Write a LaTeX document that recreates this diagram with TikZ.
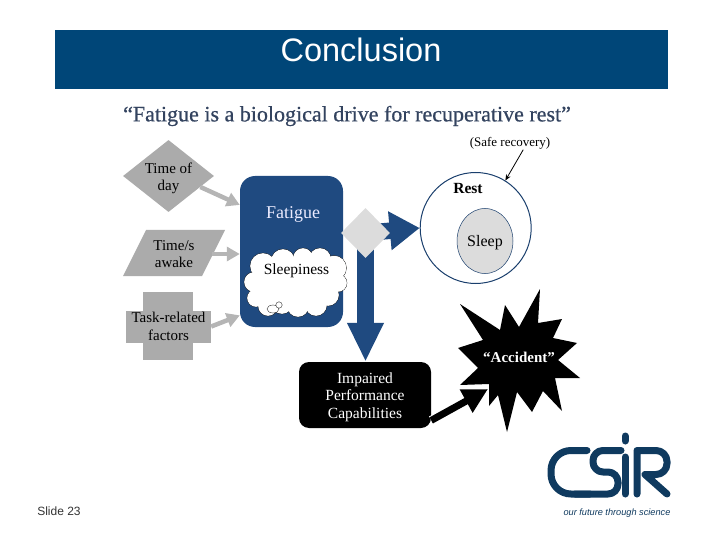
\documentclass[tikz,border=0pt]{standalone}
\usepackage{fontspec}
\setmainfont{Liberation Serif}
\newfontfamily\arialf{Liberation Sans}
\newfontfamily\quotef[FakeBold=0.6]{Liberation Serif}
\usetikzlibrary{arrows.meta,shapes.geometric,backgrounds}
\definecolor{hdr}{HTML}{004678}
\definecolor{fatblue}{HTML}{1F4A80}
\definecolor{quotec}{HTML}{33435F}
\definecolor{greyshape}{HTML}{ABABAB}
\definecolor{greyarrow}{HTML}{B5B5B5}
\definecolor{lightg}{HTML}{DCDCDC}
\definecolor{logoc}{HTML}{0F3A5F}
\newcommand{\fsz}[1]{\fontsize{#1}{17.5}\selectfont}
\tikzset{
  x=1pt,y=-1pt,
  lbl/.style={inner sep=0pt,align=center,text=black},
  gshape/.style={fill=greyshape,draw=none},
  garrow/.style={draw=greyarrow,line width=4.5pt,-{Triangle[length=13pt,width=14pt]}},
  barrow/.style={draw=fatblue,line width=16.5pt,-{Triangle[length=30pt,width=37pt]}},
  barrowdown/.style={draw=fatblue,line width=16.5pt,-{Triangle[length=39pt,width=34pt]}},
  logostroke/.style={draw=logoc,line width=7pt,line cap=round,line join=round},
  puff/.style={draw=black,line width=0.35pt,fill=white},
}
\begin{document}
\begin{tikzpicture}
\useasboundingbox (0,0) rectangle (720,540);
% header
\node[fill=hdr,minimum width=613pt,minimum height=59pt,inner sep=0pt] (header) at (361.5,59.5) {};
\node[text=white,inner sep=0pt] (title) at (361,50) {\arialf\fsz{32.5}Conclusion};
\node[text=quotec,inner sep=0pt] (quote) at (347,116) {\quotef\fsz{22}“Fatigue is a biological drive for recuperative rest”};
\node[inner sep=0pt,text=black!80] (slide) at (59,511) {\arialf\fsz{12}Slide 23};
% left inputs
\node[diamond,aspect=1.26,gshape,inner sep=0pt,minimum width=91pt,minimum height=72pt] (tod) at (168.5,176) {};
\node[lbl,font=\fsz{15}] (todlabel) at (168.5,178.5) {Time of\\day};
\fill[greyshape] (146,230) -- (225,230) -- (202,276) -- (123,276) -- cycle;
\node[lbl,minimum width=76pt,minimum height=46pt,font=\fsz{15}] (awake) at (174,254) {Time/s\\awake};
\fill[greyshape] (143,292) rectangle (193,360);
\node[fill=greyshape,lbl,minimum width=85pt,minimum height=32pt,font=\fsz{15}] (task) at (168.5,326.5) {Task-related\\factors};
% fatigue box
\node[fill=fatblue,rounded corners=15pt,minimum width=103pt,minimum height=151pt,inner sep=0pt] (fat) at (291.5,251.5) {};
\node[inner sep=0pt,text=blue!8!white] (fatlabel) at (293,214) {\fsz{18}Fatigue};
% cloud
\foreach \cx/\cy/\r in {254/282/10,256/298/9,268/306/10,263/266/13,283/261/12,303/258/10,320/259/11,334/268/12.5,338/283/9,328/295/11,316/305/11,298/306/11,282/303/11}{
  \filldraw[puff] (\cx,\cy) circle (\r);
}
\foreach \cx/\cy/\r in {254/282/9.6,256/298/8.6,268/306/9.6,263/266/12.6,283/261/11.6,303/258/9.6,320/259/10.6,334/268/12.1,338/283/8.6,328/295/10.6,316/305/10.6,298/306/10.6,282/303/10.6}{
  \fill[white] (\cx,\cy) circle (\r);
}
\fill[white] (268,258) rectangle (331,300);
\fill[white] (258,270) rectangle (320,305);
\draw[black,line width=0.3pt,fill=white] (273,309) ellipse (6 and 4);
\draw[black,line width=0.3pt,fill=white] (279,305) circle (3.2);
\node[lbl] (sleepiness) at (296.5,271) {\fsz{15.5}Sleepiness};
% gate
\node[diamond,fill=lightg,draw=none,inner sep=0pt,minimum width=49pt,minimum height=50pt] (gate) at (365.5,233) {};
% rest
\node[circle,draw=fatblue!85!black,line width=1pt,fill=white,minimum size=111pt,inner sep=0pt] (rest) at (475.7,228) {};
\node[ellipse,draw=fatblue!85!black,line width=0.5pt,fill=lightg,minimum width=56pt,minimum height=65pt,inner sep=0pt] (sleep) at (485,241) {};
\node[lbl] (sleeplabel) at (485,243) {\fsz{16}Sleep};
\node[lbl] (restlabel) at (468,189) {\bfseries\fsz{15.5}Rest};
\node[lbl] (safe) at (510,143.5) {\fsz{13}(Safe recovery)};
% impaired
\node[fill=black,rounded corners=10pt,minimum width=132pt,minimum height=66pt,inner sep=0pt] (imp) at (365,395) {};
\node[inner sep=0pt,text=white,align=center,font=\fsz{15.5}] (implabel) at (365,397) {Impaired\\Performance\\Capabilities};
% accident star
\fill[black] (540,289) -- (538,323) -- (562,319) -- (553,338) -- (577,343) -- (558,360) -- (580,378) -- (555,378) -- (562,411) -- (543,391) -- (532,412) -- (517,392) -- (507,432) -- (498,395) -- (489,406) -- (489,384) -- (460,385) -- (478,368) -- (458,348) -- (483,340) -- (460,304) -- (500,330) -- (505,305) -- (519,327) -- cycle;
\node[inner sep=0pt,text=white] (acc) at (519,357) {\bfseries\fsz{15}“Accident”};
\coordinate (acctip) at (488,389);
% connectors
\draw[garrow] (tod.-19) -- (fat.138);
\draw[garrow] (awake.east) -- (fat.west |- awake);
\draw[garrow] (task.east) -- (fat.231);
\begin{scope}[on background layer]
  \draw[barrow] (gate.center) -- (rest.west);
  \draw[barrowdown] (gate.center) -- (gate.center |- imp.north);
\end{scope}
\draw[black,line width=0.8pt,-{Stealth[length=6pt,width=5pt]}] (safe.-25) -- (rest.58);
\draw[draw=white,line width=9pt,-{Triangle[length=29pt,width=29pt]}] (imp.-21) -- (acctip);
\draw[draw=black,line width=7pt,-{Triangle[length=25pt,width=25pt]}] (imp.-21) -- (acctip);
% logo
\draw[logostroke,rounded corners=20pt] (587,450.5) -- (551,450.5) -- (551,494) -- (590,494);
\draw[logostroke,rounded corners=10pt] (621,450.5) -- (593,450.5) -- (593,472) -- (618,472) -- (618,494) -- (575,494);
\draw[logostroke] (625,457) -- (625,494);
\draw[logostroke] (625,436) -- (625,441);
\draw[logostroke] (637,494) -- (637,450.5) [rounded corners=11pt] -- (667,450.5) -- (667,474.5) [sharp corners] -- (645,474.5) -- (667,494);
\node[inner sep=0pt,text=logoc] (tag) at (617,513) {\arialf\itshape\fsz{9.2}our future through science};
\end{tikzpicture}
\end{document}
